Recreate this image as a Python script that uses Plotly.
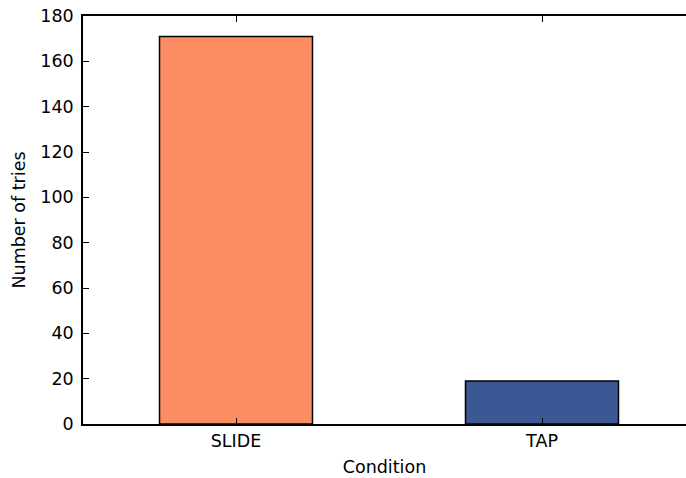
import plotly.graph_objects as go

categories = ["SLIDE", "TAP"]
values = [171, 19]
colors = ["#fc8d62", "#3b5894"]

fig = go.Figure()
fig.add_trace(go.Bar(
    x=[0, 1], y=values, width=0.5,
    marker=dict(color=colors, line=dict(color="black", width=1.5)),
))

font = dict(family="DejaVu Sans", size=17.5, color="black")
fig.update_layout(
    width=686, height=478,
    margin=dict(l=83, r=0, t=16, b=54),
    plot_bgcolor="white", paper_bgcolor="white",
    font=font, showlegend=False,
    xaxis=dict(
        range=[-0.5, 1.5 - (695 - 686) / 306], tickvals=[0, 1], ticktext=categories,
        ticks="inside", ticklen=6, tickwidth=1, tickcolor="black",
        showline=True, linecolor="black", linewidth=1.5, mirror="ticks",
        showgrid=False, zeroline=False, automargin=False,
        title=dict(text="Condition", standoff=11, font=font),
    ),
    yaxis=dict(
        range=[0, 180], tickvals=list(range(0, 181, 20)),
        ticks="inside", ticklen=6, tickwidth=1, tickcolor="black",
        showline=True, linecolor="black", linewidth=1.5,
        showgrid=False, zeroline=False, automargin=False,
        ticklabelstandoff=4,
        title=dict(text="Number of tries", standoff=10, font=font),
    ),
)
fig.write_html("out.html", config={"displayModeBar": False},
               post_script="document.body.style.margin='0';")
